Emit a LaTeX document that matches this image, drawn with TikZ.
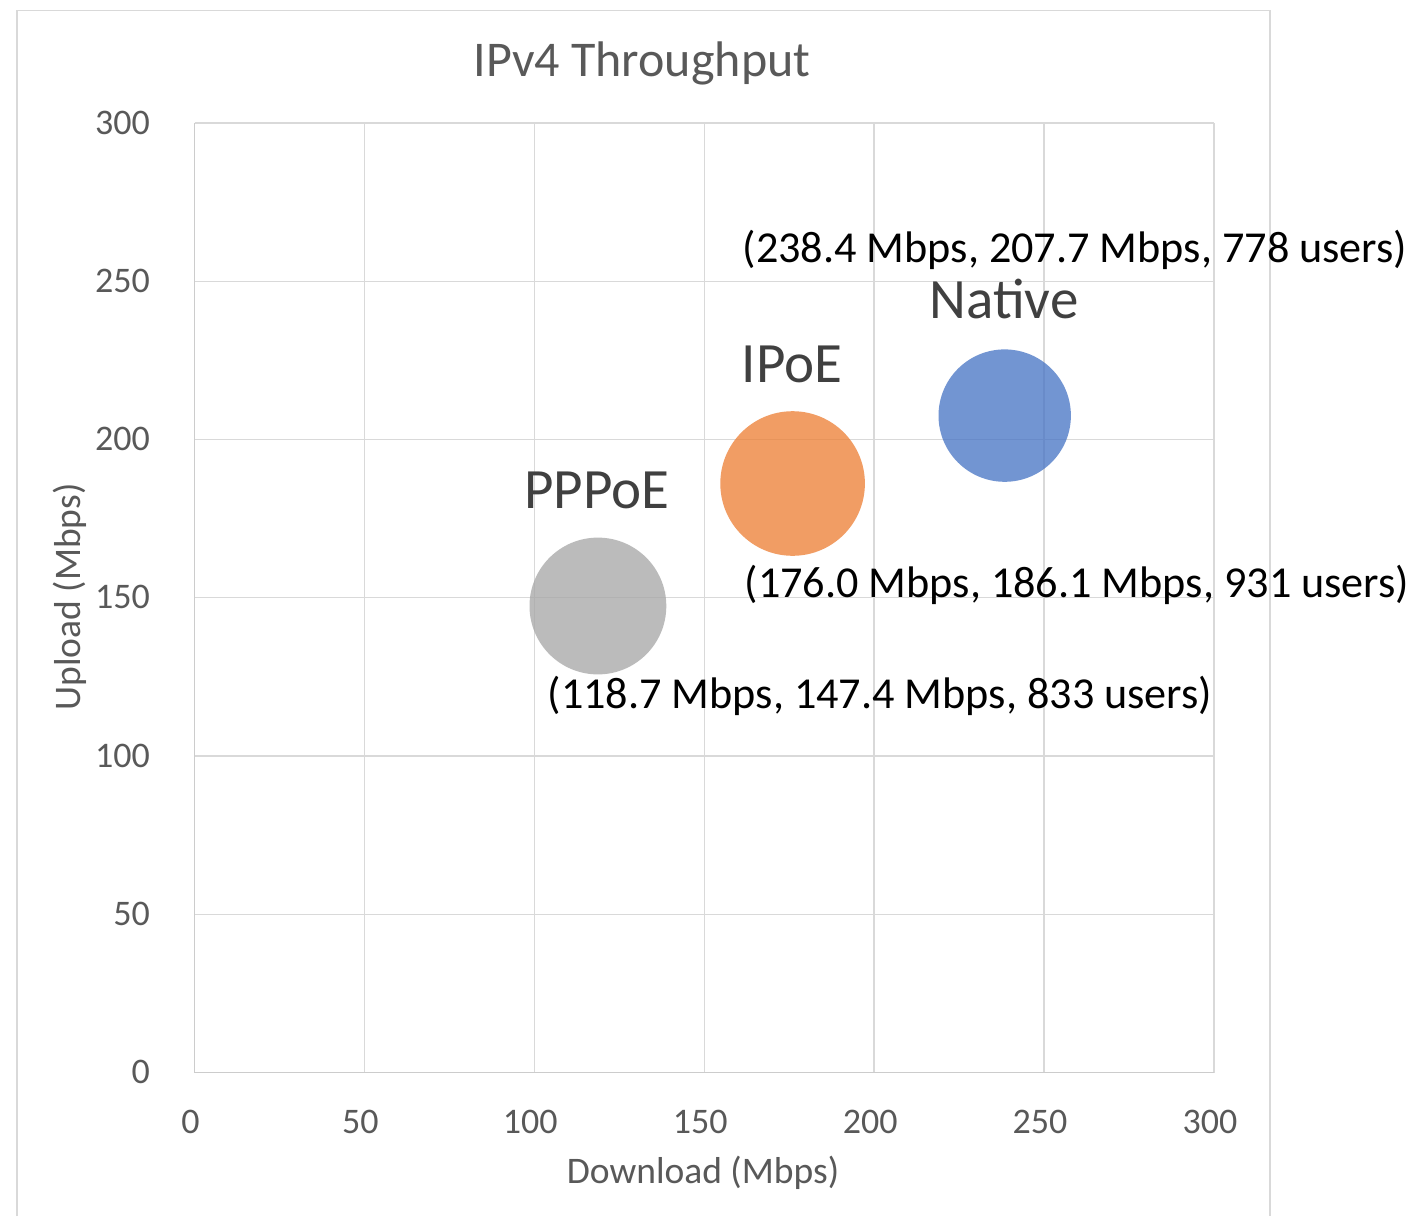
\documentclass[tikz,border=0pt]{standalone}
\usepackage{fontspec}
\setmainfont{Carlito}
\definecolor{gridc}{HTML}{D9D9D9}
\definecolor{axisc}{HTML}{CCCCCC}
\definecolor{tickc}{HTML}{595959}
\definecolor{namec}{HTML}{404040}
\definecolor{nativec}{HTML}{4472C4}
\definecolor{ipoec}{HTML}{ED7D31}
\definecolor{pppoec}{HTML}{A5A5A5}
\begin{document}
\begin{tikzpicture}[x=1pt,y=-1pt,
  gridline/.style={draw=gridc, line width=1.4pt},
  axisline/.style={draw=axisc, line width=1.6pt},
  frameline/.style={draw=gridc, line width=1.6pt},
  ticklabel/.style={font=\fontsize{36}{40}\selectfont, text=tickc, inner sep=0pt},
  axistitle/.style={font=\fontsize{37.5}{42}\selectfont, text=tickc, inner sep=0pt},
  charttitle/.style={font=\fontsize{50}{56}\selectfont, text=tickc, inner sep=0pt},
  bubble/.style={circle, draw=none, fill opacity=0.75, inner sep=0pt},
  seriesname/.style={font=\fontsize{57}{62}\selectfont, text=namec, inner sep=0pt, anchor=base},
  datalabel/.style={font=\fontsize{44.2}{48}\selectfont, text=black, inner sep=0pt, anchor=base}]
\useasboundingbox (0,0) rectangle (1414,1216);
\fill[white] (0,0) rectangle (1414,1216);
% chart frame (bottom edge lies below the picture)
\draw[frameline] (17,1216) -- (17,10.5) -- (1270,10.5) -- (1270,1216);
% grid
\foreach \i in {1,...,6} {
  \pgfmathsetmacro{\gx}{194.5+\i*169.917}
  \pgfmathsetmacro{\gy}{1072.5-\i*158.25}
  \draw[gridline] (\gx,123) -- (\gx,1072.5);
  \draw[gridline] (194.5,\gy) -- (1214,\gy);
}
\draw[axisline] (194.5,123) -- (194.5,1072.5) -- (1214,1072.5);
% tick labels
\foreach \i/\v in {0/0,1/50,2/100,3/150,4/200,5/250,6/300} {
  \pgfmathsetmacro{\gx}{194.5+\i*169.917-4}
  \pgfmathsetmacro{\gy}{1072.5-\i*158.25+11}
  \node[ticklabel, anchor=base] (xt\i) at (\gx,1133) {\v};
  \node[ticklabel, anchor=base east] (yt\i) at (150,\gy) {\v};
}
% titles
\node[charttitle, anchor=base] (title) at (642,76) {IPv4 Throughput};
\node[axistitle, anchor=base] (xtitle) at (703,1183) {Download (Mbps)};
\node[axistitle, anchor=base, rotate=90] (ytitle) at (80,597) {Upload (Mbps)};
% bubbles
\node[bubble, fill=nativec, minimum size=132.4pt] (native) at (1004.7,415.6) {};
\node[bubble, fill=ipoec, minimum size=144.6pt] (ipoe) at (792.6,483.5) {};
\node[bubble, fill=pppoec, minimum size=136.8pt] (pppoe) at (597.9,606.0) {};
% series names
\node[seriesname] (nativename) at (1004,318) {Native};
\node[seriesname] (ipoename) at (792,382) {IPoE};
\node[seriesname] (pppoename) at (597,508) {PPPoE};
% data labels
\node[datalabel] (nativedata) at (1075,262) {(238.4 Mbps, 207.7 Mbps, 778 users)};
\node[datalabel] (ipoedata) at (1077,597) {(176.0 Mbps, 186.1 Mbps, 931 users)};
\node[datalabel] (pppoedata) at (880,708) {(118.7 Mbps, 147.4 Mbps, 833 users)};
\end{tikzpicture}
\end{document}
